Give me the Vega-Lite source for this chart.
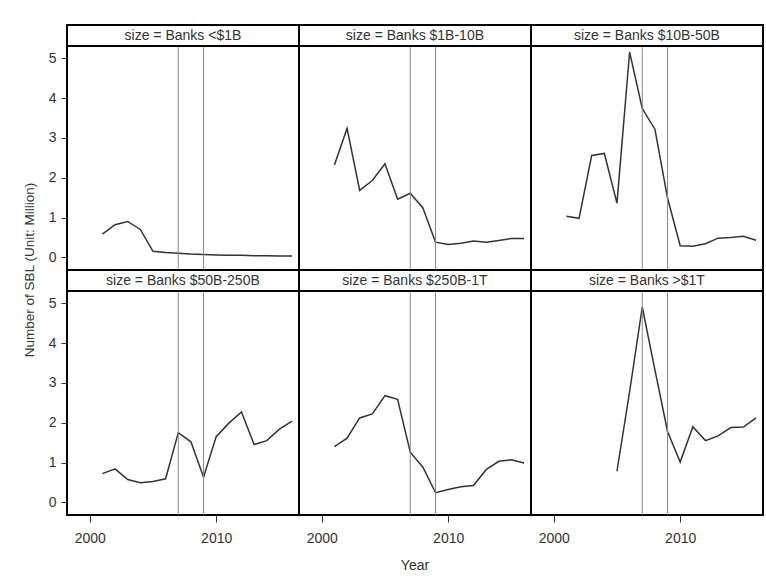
{
  "$schema": "https://vega.github.io/schema/vega-lite/v6.json",
  "padding": {"left": 22, "top": 24, "right": 4, "bottom": 4},
  "background": "white",
  "bounds": "flush",
  "data": {"values": [
    {"size": "Banks <$1B", "year": 2001, "sbl": 0.58},
    {"size": "Banks <$1B", "year": 2002, "sbl": 0.82},
    {"size": "Banks <$1B", "year": 2003, "sbl": 0.90},
    {"size": "Banks <$1B", "year": 2004, "sbl": 0.70},
    {"size": "Banks <$1B", "year": 2005, "sbl": 0.15},
    {"size": "Banks <$1B", "year": 2006, "sbl": 0.12},
    {"size": "Banks <$1B", "year": 2007, "sbl": 0.10},
    {"size": "Banks <$1B", "year": 2008, "sbl": 0.08},
    {"size": "Banks <$1B", "year": 2009, "sbl": 0.07},
    {"size": "Banks <$1B", "year": 2010, "sbl": 0.06},
    {"size": "Banks <$1B", "year": 2011, "sbl": 0.05},
    {"size": "Banks <$1B", "year": 2012, "sbl": 0.05},
    {"size": "Banks <$1B", "year": 2013, "sbl": 0.04},
    {"size": "Banks <$1B", "year": 2014, "sbl": 0.04},
    {"size": "Banks <$1B", "year": 2015, "sbl": 0.03},
    {"size": "Banks <$1B", "year": 2016, "sbl": 0.03},
    {"size": "Banks $1B-10B", "year": 2001, "sbl": 2.32},
    {"size": "Banks $1B-10B", "year": 2002, "sbl": 3.24},
    {"size": "Banks $1B-10B", "year": 2003, "sbl": 1.68},
    {"size": "Banks $1B-10B", "year": 2004, "sbl": 1.93},
    {"size": "Banks $1B-10B", "year": 2005, "sbl": 2.35},
    {"size": "Banks $1B-10B", "year": 2006, "sbl": 1.46},
    {"size": "Banks $1B-10B", "year": 2007, "sbl": 1.61},
    {"size": "Banks $1B-10B", "year": 2008, "sbl": 1.24},
    {"size": "Banks $1B-10B", "year": 2009, "sbl": 0.38},
    {"size": "Banks $1B-10B", "year": 2010, "sbl": 0.32},
    {"size": "Banks $1B-10B", "year": 2011, "sbl": 0.35},
    {"size": "Banks $1B-10B", "year": 2012, "sbl": 0.41},
    {"size": "Banks $1B-10B", "year": 2013, "sbl": 0.38},
    {"size": "Banks $1B-10B", "year": 2014, "sbl": 0.42},
    {"size": "Banks $1B-10B", "year": 2015, "sbl": 0.47},
    {"size": "Banks $1B-10B", "year": 2016, "sbl": 0.47},
    {"size": "Banks $10B-50B", "year": 2001, "sbl": 1.03},
    {"size": "Banks $10B-50B", "year": 2002, "sbl": 0.98},
    {"size": "Banks $10B-50B", "year": 2003, "sbl": 2.56},
    {"size": "Banks $10B-50B", "year": 2004, "sbl": 2.61},
    {"size": "Banks $10B-50B", "year": 2005, "sbl": 1.36},
    {"size": "Banks $10B-50B", "year": 2006, "sbl": 5.16},
    {"size": "Banks $10B-50B", "year": 2007, "sbl": 3.74},
    {"size": "Banks $10B-50B", "year": 2008, "sbl": 3.22},
    {"size": "Banks $10B-50B", "year": 2009, "sbl": 1.49},
    {"size": "Banks $10B-50B", "year": 2010, "sbl": 0.29},
    {"size": "Banks $10B-50B", "year": 2011, "sbl": 0.28},
    {"size": "Banks $10B-50B", "year": 2012, "sbl": 0.34},
    {"size": "Banks $10B-50B", "year": 2013, "sbl": 0.48},
    {"size": "Banks $10B-50B", "year": 2014, "sbl": 0.50},
    {"size": "Banks $10B-50B", "year": 2015, "sbl": 0.53},
    {"size": "Banks $10B-50B", "year": 2016, "sbl": 0.43},
    {"size": "Banks $50B-250B", "year": 2001, "sbl": 0.72},
    {"size": "Banks $50B-250B", "year": 2002, "sbl": 0.84},
    {"size": "Banks $50B-250B", "year": 2003, "sbl": 0.57},
    {"size": "Banks $50B-250B", "year": 2004, "sbl": 0.49},
    {"size": "Banks $50B-250B", "year": 2005, "sbl": 0.52},
    {"size": "Banks $50B-250B", "year": 2006, "sbl": 0.59},
    {"size": "Banks $50B-250B", "year": 2007, "sbl": 1.75},
    {"size": "Banks $50B-250B", "year": 2008, "sbl": 1.52},
    {"size": "Banks $50B-250B", "year": 2009, "sbl": 0.63},
    {"size": "Banks $50B-250B", "year": 2010, "sbl": 1.65},
    {"size": "Banks $50B-250B", "year": 2011, "sbl": 1.99},
    {"size": "Banks $50B-250B", "year": 2012, "sbl": 2.27},
    {"size": "Banks $50B-250B", "year": 2013, "sbl": 1.45},
    {"size": "Banks $50B-250B", "year": 2014, "sbl": 1.55},
    {"size": "Banks $50B-250B", "year": 2015, "sbl": 1.84},
    {"size": "Banks $50B-250B", "year": 2016, "sbl": 2.04},
    {"size": "Banks $250B-1T", "year": 2001, "sbl": 1.40},
    {"size": "Banks $250B-1T", "year": 2002, "sbl": 1.61},
    {"size": "Banks $250B-1T", "year": 2003, "sbl": 2.12},
    {"size": "Banks $250B-1T", "year": 2004, "sbl": 2.22},
    {"size": "Banks $250B-1T", "year": 2005, "sbl": 2.68},
    {"size": "Banks $250B-1T", "year": 2006, "sbl": 2.59},
    {"size": "Banks $250B-1T", "year": 2007, "sbl": 1.26},
    {"size": "Banks $250B-1T", "year": 2008, "sbl": 0.88},
    {"size": "Banks $250B-1T", "year": 2009, "sbl": 0.24},
    {"size": "Banks $250B-1T", "year": 2010, "sbl": 0.32},
    {"size": "Banks $250B-1T", "year": 2011, "sbl": 0.39},
    {"size": "Banks $250B-1T", "year": 2012, "sbl": 0.42},
    {"size": "Banks $250B-1T", "year": 2013, "sbl": 0.82},
    {"size": "Banks $250B-1T", "year": 2014, "sbl": 1.03},
    {"size": "Banks $250B-1T", "year": 2015, "sbl": 1.07},
    {"size": "Banks $250B-1T", "year": 2016, "sbl": 0.99},
    {"size": "Banks >$1T", "year": 2005, "sbl": 0.78},
    {"size": "Banks >$1T", "year": 2006, "sbl": 2.78},
    {"size": "Banks >$1T", "year": 2007, "sbl": 4.91},
    {"size": "Banks >$1T", "year": 2008, "sbl": 3.33},
    {"size": "Banks >$1T", "year": 2009, "sbl": 1.78},
    {"size": "Banks >$1T", "year": 2010, "sbl": 1.01},
    {"size": "Banks >$1T", "year": 2011, "sbl": 1.90},
    {"size": "Banks >$1T", "year": 2012, "sbl": 1.55},
    {"size": "Banks >$1T", "year": 2013, "sbl": 1.67},
    {"size": "Banks >$1T", "year": 2014, "sbl": 1.88},
    {"size": "Banks >$1T", "year": 2015, "sbl": 1.89},
    {"size": "Banks >$1T", "year": 2016, "sbl": 2.12}
  ]},
  "transform": [
    {"calculate": "indexof(['Banks <$1B', 'Banks $1B-10B', 'Banks $10B-50B', 'Banks $50B-250B', 'Banks $250B-1T', 'Banks >$1T'], datum.size)", "as": "idx"},
    {"calculate": "floor(datum.idx / 3)", "as": "panelRow"},
    {"calculate": "datum.idx % 3", "as": "panelCol"}
  ],
  "facet": {
    "row": {"field": "panelRow", "type": "ordinal", "title": "Number of SBL (Unit: Million)",
      "header": {"labels": false, "titleOrient": "left", "titleFont": "Liberation Sans", "titleFontSize": 13.5,
        "titleFontWeight": "normal", "titleColor": "#333333", "titlePadding": 2}},
    "column": {"field": "panelCol", "type": "ordinal", "title": "Year",
      "header": {"labels": false, "titleOrient": "bottom", "titleFont": "Liberation Sans", "titleFontSize": 14,
        "titleFontWeight": "normal", "titleColor": "#333333", "titlePadding": 4}}
  },
  "spacing": 0,
  "spec": {
    "width": 232,
    "height": 245,
    "encoding": {
      "x": {"field": "year", "type": "quantitative", "title": null,
        "scale": {"domain": [1998.2, 2016.55], "nice": false, "zero": false},
        "axis": {"values": [2000, 2010], "format": "d", "grid": false, "domain": false,
          "tickSize": 7, "labelPadding": 9}},
      "y": {"field": "sbl", "type": "quantitative", "title": null,
        "scale": {"domain": [-0.32, 5.84], "nice": false, "zero": false},
        "axis": {"values": [0, 1, 2, 3, 4, 5], "grid": false, "domain": false,
          "tickSize": 6, "labelPadding": 5}}
    },
    "layer": [
      {"mark": {"type": "line", "color": "#333333", "strokeWidth": 1.5}},
      {"transform": [{"filter": "datum.year == 2016"}],
       "mark": {"type": "rule", "color": "#888888", "strokeWidth": 1},
       "encoding": {"x": {"datum": 2007}, "y": {"datum": -0.32}, "y2": {"datum": 5.31}}},
      {"transform": [{"filter": "datum.year == 2016"}],
       "mark": {"type": "rule", "color": "#888888", "strokeWidth": 1},
       "encoding": {"x": {"datum": 2009}, "y": {"datum": -0.32}, "y2": {"datum": 5.31}}},
      {"transform": [{"filter": "datum.year == 2016"}],
       "mark": {"type": "rule", "color": "#000000", "strokeWidth": 2},
       "encoding": {"x": {"datum": 1998.2}, "x2": {"datum": 2016.55}, "y": {"datum": 5.31}}},
      {"transform": [{"filter": "datum.year == 2016"}, {"calculate": "'size = ' + datum.size", "as": "label"}],
       "mark": {"type": "text", "fontSize": 14, "font": "Liberation Sans", "color": "#333333", "baseline": "middle", "align": "center"},
       "encoding": {"x": {"datum": 2007.37}, "y": {"datum": 5.575}, "text": {"field": "label", "type": "nominal"}}}
    ]
  },
  "config": {
    "view": {"stroke": "#000000", "strokeWidth": 2},
    "font": "Liberation Sans",
    "axis": {"labelFont": "Liberation Sans", "labelFontSize": 14, "labelColor": "#333333",
      "tickColor": "#333333", "tickWidth": 1}
  }
}
